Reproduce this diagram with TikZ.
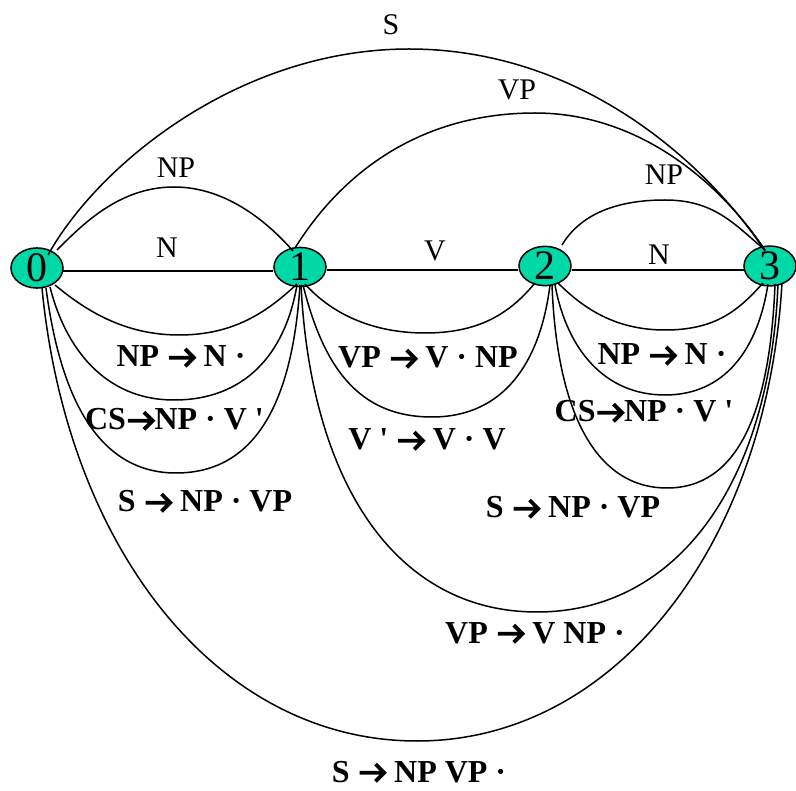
\documentclass[tikz,border=0pt]{standalone}
\usepackage{fontspec}
\setmainfont{Liberation Serif}[Ligatures=TeXOff]
\usetikzlibrary{shapes.geometric,calc}
\definecolor{nodefill}{RGB}{0,216,168}
\newcommand{\rarr}{\tikz[baseline=0pt,x=1em,y=1em]{\draw[line width=0.12em,line join=miter,line cap=butt] (0.02,0.29) -- (0.78,0.29) (0.52,0.56) -- (0.79,0.29) -- (0.52,0.02);}}
\begin{document}
\begin{tikzpicture}[x=1pt,y=-1pt,
  state/.style={ellipse,draw,line width=1.5pt,fill=nodefill,minimum width=52pt,minimum height=38pt,inner sep=0pt,font=\fontsize{42}{42}\selectfont},
  edge/.style={line width=1.5pt},
  toplab/.style={anchor=base,inner sep=0pt,font=\fontsize{30}{30}\selectfont},
  botlab/.style={anchor=base,inner sep=0pt,font=\fontsize{32}{32}\selectfont\bfseries}]
\useasboundingbox (0,0) rectangle (796,791);

\node[state] (n0) at (37,268) {0};
\node[state] (n1) at (300,267) {1};
\node[state] (n2) at (545,266) {2};
\node[state] (n3) at (770,266) {3};

% straight edges
\draw[edge] ($(n0)+(26,3)$) -- ($(n1)+(-27,4)$);
\draw[edge] ($(n1)+(27,3)$) -- ($(n2)+(-27,4)$);
\draw[edge] ($(n2)+(27,4)$) -- ($(n3)+(-25,4)$);

% upper arcs
\draw[edge] ($(n0)+(20,-18)$) .. controls +(25,-25) and +(-55,0) .. (174,187) .. controls +(55,0) and +(-22,-25) .. ($(n1)+(-7,-16)$);
\draw[edge] ($(n2)+(17,-21)$) .. controls +(18,-30) and +(-50,0) .. (665,200) .. controls +(50,0) and +(-30,-25) .. ($(n3)+(-5,-16)$);
\draw[edge] ($(n1)+(-5,-19)$) .. controls +(50,-80) and +(-110,0) .. (535,113) .. controls +(110,0) and +(-40,-60) .. ($(n3)+(-5,-16)$);
\draw[edge] ($(n0)+(11,-13)$) .. controls +(50,-90) and +(-170,0) .. (409,49) .. controls +(170,0) and +(-60,-90) .. ($(n3)+(-5,-15)$);

% lower arcs 0-1
\draw[edge] ($(n0)+(18,17)$) .. controls +(30,25) and +(-55,0) .. (179,335) .. controls +(55,0) and +(-30,28) .. ($(n1)+(-3,17)$);
\draw[edge] ($(n0)+(13,19)$) .. controls +(15,60) and +(-70,0) .. (174,400) .. controls +(70,0) and +(-12,70) .. ($(n1)+(-3,18)$);
\draw[edge] ($(n0)+(9,20)$) .. controls +(15,115) and +(-75,0) .. (176,473) .. controls +(75,0) and +(-8,125) .. ($(n1)+(0,18)$);
% lower arcs 1-2
\draw[edge] ($(n1)+(5,17)$) .. controls +(25,28) and +(-55,0) .. (425,333) .. controls +(55,0) and +(-25,30) .. ($(n2)+(-10,17)$);
\draw[edge] ($(n1)+(3,18)$) .. controls +(20,80) and +(-75,0) .. (432,417) .. controls +(70,0) and +(-10,80) .. ($(n2)+(5,19)$);
% lower arcs 2-3
\draw[edge] ($(n2)+(13,17)$) .. controls +(25,25) and +(-50,0) .. (665,330) .. controls +(50,0) and +(-25,28) .. ($(n3)+(-7,17)$);
\draw[edge] ($(n2)+(10,19)$) .. controls +(12,65) and +(-60,0) .. (665,395) .. controls +(60,0) and +(-10,65) .. ($(n3)+(-2,18)$);
\draw[edge] ($(n2)+(7,19)$) .. controls +(5,130) and +(-70,0) .. (667,488) .. controls +(70,0) and +(-5,130) .. ($(n3)+(5,18)$);
% long lower arcs
\draw[edge] ($(n1)+(1,18)$) .. controls +(10,200) and +(-140,0) .. (537,612) .. controls +(140,0) and +(-8,200) .. ($(n3)+(8,18)$);
\draw[edge] ($(n0)+(5,20)$) .. controls +(25,260) and +(-200,0) .. (417,741) .. controls +(200,0) and +(-15,260) .. ($(n3)+(12,17)$);

% upper labels
\node[toplab] (lS) at (391,35) {S};
\node[toplab] (lVP) at (517,100) {VP};
\node[toplab] (lNPa) at (176,178) {NP};
\node[toplab] (lNPb) at (664,185) {NP};
\node[toplab] (lNa) at (167,258) {N};
\node[toplab] (lV) at (435,261) {V};
\node[toplab] (lNb) at (659,265) {N};

% lower labels
\node[botlab] (b1) at (181,367) {NP \rarr{} N ·};
\node[botlab] (b2) at (174.5,430) {CS\rarr{}NP · V '};
\node[botlab] (b3) at (205,512) {S \rarr{} NP · VP};
\node[botlab] (b4) at (428,368) {VP \rarr{} V · NP};
\node[botlab] (b5) at (427,450) {V ' \rarr{} V · V};
\node[botlab] (b6) at (662,365) {NP \rarr{} N ·};
\node[botlab] (b7) at (644,422) {CS\rarr{}NP · V '};
\node[botlab] (b8) at (573,518) {S \rarr{} NP · VP};
\node[botlab] (b9) at (535,643) {VP \rarr{} V NP ·};
\node[botlab] (b10) at (419,782) {S \rarr{} NP VP ·};
\end{tikzpicture}
\end{document}
